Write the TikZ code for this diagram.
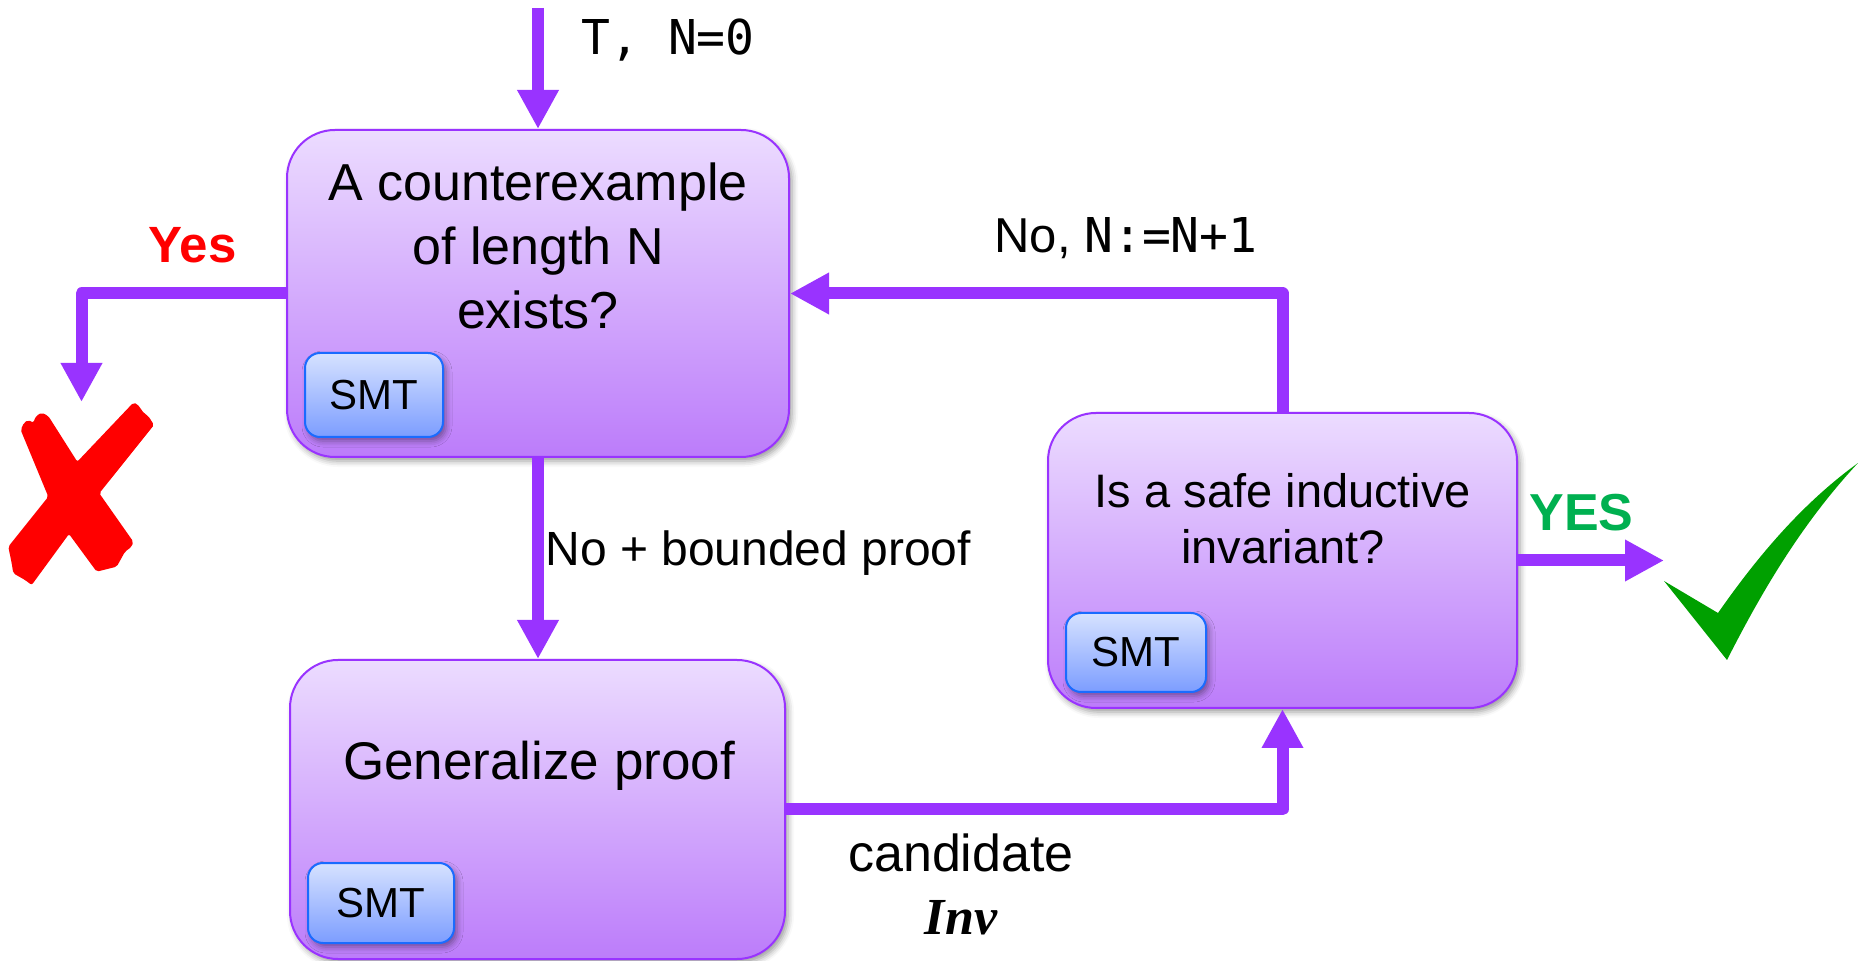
\documentclass[tikz,border=0pt]{standalone}
\usepackage{fontspec}
\setmainfont{Liberation Sans}
\newfontfamily\monof{DejaVu Sans Mono}
\newfontfamily\romanf{Liberation Serif}
\usetikzlibrary{arrows.meta,shadows.blur}

\definecolor{flow}{HTML}{9933FF}
\definecolor{boxtop}{HTML}{ECDCFF}
\definecolor{boxbot}{HTML}{BC7CFA}
\definecolor{smttop}{HTML}{D6E2FF}
\definecolor{smtbot}{HTML}{7C9DFF}
\definecolor{smtline}{HTML}{1A6BFF}
\definecolor{nored}{HTML}{FF0000}
\definecolor{yesgreen}{HTML}{00B050}
\definecolor{tickgreen}{HTML}{00A000}

\begin{document}
\begin{tikzpicture}[x=0.5pt,y=-0.5pt,
  softshadow/.style={blur shadow={shadow xshift=1.5pt, shadow yshift=-2pt,
      shadow blur radius=3pt, shadow opacity=40}},
  stage/.style={draw=flow, line width=1pt, rounded corners=24pt,
      top color=boxtop, bottom color=boxbot, softshadow, inner sep=0pt},
  solver/.style={draw=smtline, line width=1pt, rounded corners=7.5pt,
      top color=smttop, bottom color=smtbot, softshadow, inner sep=0pt,
      font=\fontsize{21}{25}\selectfont},
  stagetext/.style={align=center, inner sep=0pt},
  label/.style={inner sep=0pt},
  flowline/.style={draw=flow, line width=6pt, line join=round,
      -{Triangle[length=19.5pt,width=19.5pt]}}
]
\useasboundingbox (0,0) rectangle (1858,961);

% stages of the loop
\node[stage, minimum width=251pt, minimum height=163.5pt] (check) at (538,293.5) {};
\node[stage, minimum width=234.5pt, minimum height=147.5pt] (ind) at (1282.5,560.5) {};
\node[stage, minimum width=247.5pt, minimum height=149.5pt] (gen) at (537.5,809.5) {};

\node[stagetext, font=\fontsize{26}{32}\selectfont] (checktxt) at (538,245.5)
  {A counterexample\\of length N\\exists?};
\node[stagetext, font=\fontsize{23.5}{28}\selectfont] (indtxt) at (1283,519)
  {Is a safe inductive\\invariant?};
\node[label, anchor=base, font=\fontsize{26.5}{32}\selectfont] (gentxt) at (539,780)
  {Generalize proof};

% solver badges
\node[solver, minimum width=69pt, minimum height=42pt] (smt1) at (374,395) {SMT};
\node[solver, minimum width=70pt, minimum height=39.5pt] (smt2) at (1136,652.5) {SMT};
\node[solver, minimum width=73pt, minimum height=40pt] (smt3) at (381,903) {SMT};

% free ends of the connectors
\coordinate (start) at (538,8);
\coordinate (fail) at (81.5,402);
\coordinate (done) at (1664,560.5);

% connectors
\draw[flowline] (start) -- (check.north);
\draw[flowline] (check.west) -| (fail);
\draw[flowline] (check.south) -- (check.south |- gen.north);
\draw[flowline] (gen.east) -| (ind.south);
\draw[flowline] (ind.north) |- (check.east);
\draw[flowline] (ind.east) -- (done);

% connector labels
\node[label, anchor=base west, font=\monof\fontsize{24}{28}\selectfont] (init) at (581,55)
  {T, N=0};
\node[label, anchor=base, font=\bfseries\fontsize{25.5}{30}\selectfont, text=nored] (yes) at (192.5,263)
  {Yes};
\node[label, anchor=base west, font=\fontsize{24.5}{28}\selectfont] (retry) at (994,253)
  {No, {\monof\fontsize{24}{28}\selectfont N:=N+1}};
\node[label, anchor=base west, font=\fontsize{24}{28}\selectfont] (bounded) at (545,566)
  {No + bounded proof};
\node[label, anchor=base, font=\bfseries\fontsize{26}{30}\selectfont, text=yesgreen] (yesok) at (1581.5,531)
  {YES};
\node[label, anchor=base, font=\fontsize{26}{32}\selectfont] (cand) at (961,871)
  {candidate};
\node[label, anchor=base, font=\romanf\bfseries\itshape\fontsize{26}{32}\selectfont] (inv) at (961,934)
  {Inv};

% red cross: counterexample found
\fill[nored, rounded corners=1pt]
  (20.7,430) -- (24,422.7) -- (28.3,420) -- (33.3,422.7) -- (36,416)
  -- (41.7,412.7) -- (48.3,416) -- (77.3,461.7)
  -- (133.3,402.7) -- (137.3,404) -- (144,413.3) -- (148.3,416) -- (154,425)
  -- (99.3,493.3)
  -- (133.3,541.7) -- (131.7,546.7) -- (125,551.7) -- (116.7,566.7) -- (96.7,571.7)
  -- (69,534)
  -- (31.7,585) -- (25,580) -- (13.3,573.3) -- (11.7,563.3) -- (8.3,546.7)
  -- (48.3,496.7) -- cycle;

% green tick: invariant proved
\fill[tickgreen]
  (1664,581) -- (1718,613)
  .. controls (1755,560) and (1800,505) .. (1858,463)
  .. controls (1805,520) and (1765,585) .. (1727,660) -- cycle;
\end{tikzpicture}
\end{document}
